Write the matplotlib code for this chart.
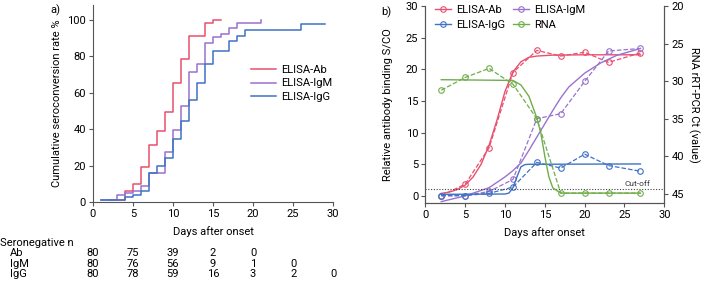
import matplotlib.pyplot as plt

plt.rcParams['font.family'] = ['Roboto', 'DejaVu Sans']
plt.rcParams['font.size'] = 7

RED = "#e8506e"
PURPLE = "#9a72cf"
BLUE = "#3f73c6"
GREEN = "#6fae4a"

# ---- panel a: cumulative seroconversion (step curves) ----
ab_days = [2, 4, 5, 6, 7, 8, 9, 10, 11, 12, 14, 15, 16]
ab_rate = [1.25, 6.25, 10, 19, 31, 39, 49.5, 65, 78.5, 91, 98, 99.5, 99.5]
igm_days = [1, 3, 4, 5, 6, 7, 9, 10, 11, 12, 13, 14, 15, 16, 17, 18, 21]
igm_rate = [1.25, 3.75, 5, 6.25, 8.75, 16, 27.5, 39.5, 52.5, 71, 75.5, 87, 90.5, 92.3, 95.5, 98, 100]
igg_days = [1, 4, 5, 6, 7, 8, 9, 10, 11, 12, 13, 14, 15, 17, 18, 19, 26, 29]
igg_rate = [1.25, 2.5, 3.75, 6.25, 16, 20, 24, 34.5, 44.5, 56, 65, 75.5, 83, 88.5, 91, 94.5, 97.5, 97.5]

table_days = [0, 5, 10, 15, 20, 25, 30]
seroneg_ab = [80, 75, 39, 2, 0]
seroneg_igm = [80, 76, 56, 9, 1, 0]
seroneg_igg = [80, 78, 59, 16, 3, 2, 0]

# ---- panel b: antibody kinetics ----
obs_days = [2, 5, 8, 11, 14, 17, 20, 23, 27]
ab_sco = [0.05, 1.85, 7.6, 19.5, 23.0, 22.1, 22.7, 21.1, 22.6]
igm_sco = [0.0, 0.05, 0.7, 2.6, 12.2, 13.0, 18.1, 22.9, 23.3]
igg_sco = [0.05, 0.05, 0.4, 1.4, 5.3, 4.4, 6.6, 4.8, 3.9]
rna_ct = [31.2, 29.5, 28.3, 30.4, 35.0, 44.9, 44.9, 44.9, 44.9]

# fitted curves
ab_fit_x = [2, 3, 4, 5, 6, 7, 8, 9, 10, 11, 12, 13, 14, 16, 20, 27]
ab_fit_y = [0.4, 0.6, 1.0, 1.7, 3.0, 5.0, 8.0, 12.0, 16.5, 19.6, 21.2, 21.9, 22.1, 22.25, 22.3, 22.3]
igm_fit_x = [2, 5, 8, 10, 11, 12, 13, 14, 15, 16, 17, 18, 20, 22, 24, 27]
igm_fit_y = [-0.9, 0.0, 1.3, 3.0, 4.0, 5.2, 7.2, 9.3, 11.4, 13.5, 15.5, 17.2, 19.4, 21.0, 22.2, 23.3]
igg_fit_x = [2, 10, 10.5, 11, 11.5, 12, 12.5, 13, 27]
igg_fit_y = [0.25, 0.3, 0.45, 1.3, 3.0, 4.6, 4.95, 5.0, 5.05]
rna_fit_x = [2, 11, 12, 13, 14, 14.5, 15, 15.5, 16, 17, 27]
rna_fit_y = [29.8, 29.9, 30.5, 32.0, 34.9, 36.9, 40.0, 42.7, 44.2, 44.9, 44.9]
cutoff = 1.1

fig = plt.figure(figsize=(7.03, 2.89), dpi=100)
ax1 = fig.add_axes([0.132, 0.301, 0.342, 0.682])
ax2 = fig.add_axes([0.605, 0.298, 0.340, 0.681])
ax3 = ax2.twinx()

# === panel a ===
for d, r, c, lab in [(ab_days, ab_rate, RED, "ELISA-Ab"),
                     (igm_days, igm_rate, PURPLE, "ELISA-IgM"),
                     (igg_days, igg_rate, BLUE, "ELISA-IgG")]:
    ax1.step(d, r, where="post", color=c, lw=1.1, label=lab)
ax1.set_xlim(0, 30)
ax1.set_ylim(0, 108)
ax1.set_xticks(range(0, 31, 5))
ax1.set_yticks(range(0, 101, 20))
ax1.set_xlabel("Days after onset", fontsize=8, labelpad=5)
ax1.set_ylabel("Cumulative seroconversion rate %", fontsize=8, labelpad=4)
for s in ["top", "right"]:
    ax1.spines[s].set_visible(False)
ax1.legend(loc="upper left", bbox_to_anchor=(0.64, 0.72), frameon=False, fontsize=8,
           handlelength=2.2, handletextpad=0.5, labelspacing=0.35, borderaxespad=0)
fig.text(0.072, 0.955, "a)", fontsize=8)

# seronegative table under panel a
ax1.text(-0.385, -0.208, "Seronegative n", transform=ax1.transAxes, fontsize=8, va="center")
tbl_y = [-0.259, -0.312, -0.365]
for y, (lab, vals) in zip(tbl_y, [("Ab", seroneg_ab), ("IgM", seroneg_igm), ("IgG", seroneg_igg)]):
    ax1.text(-0.345, y, lab, transform=ax1.transAxes, fontsize=8, va="center")
    for d, v in zip(table_days, vals):
        ax1.text(d, y, str(v), transform=ax1.get_xaxis_transform(), fontsize=8,
                 ha="center", va="center")

# === panel b ===
ax2.plot(ab_fit_x, ab_fit_y, color=RED, lw=1.0)
ax2.plot(obs_days, ab_sco, color=RED, lw=0.9, ls="--", marker="o", mfc="none", ms=4, mew=0.8)
ax2.plot(igm_fit_x, igm_fit_y, color=PURPLE, lw=1.0)
ax2.plot(obs_days, igm_sco, color=PURPLE, lw=0.9, ls="--", marker="o", mfc="none", ms=4, mew=0.8)
ax2.plot(igg_fit_x, igg_fit_y, color=BLUE, lw=1.0)
ax2.plot(obs_days, igg_sco, color=BLUE, lw=0.9, ls="--", marker="o", mfc="none", ms=4, mew=0.8)
ax2.axhline(cutoff, color="#444444", lw=0.8, ls=(0, (1, 1.5)))
ax2.text(28.3, cutoff + 0.3, "Cut-off", fontsize=6, ha="right", va="bottom", color="#333333")

ax3.plot(rna_fit_x, rna_fit_y, color=GREEN, lw=1.0)
ax3.plot(obs_days, rna_ct, color=GREEN, lw=0.9, ls="--", marker="o", mfc="none", ms=4, mew=0.8)

ax2.set_xlim(0, 30)
ax2.set_ylim(-1.1, 30)
ax3.set_ylim(46.2, 20)
ax2.set_xticks(range(0, 31, 5))
ax2.set_yticks(range(0, 31, 5))
ax3.set_yticks(range(20, 46, 5))
ax2.set_xlabel("Days after onset", fontsize=8, labelpad=5)
ax2.set_ylabel("Relative antibody binding S/CO", fontsize=8, labelpad=9)
ax3.set_ylabel("RNA rRT-PCR Ct (value)", fontsize=8, rotation=270, labelpad=11)
for a in (ax2, ax3):
    a.spines["top"].set_visible(False)
fig.text(0.543, 0.945, "b)", fontsize=8)

# legend for panel b (line + open circle)
handles = []
for c, lab in [(RED, "ELISA-Ab"), (PURPLE, "ELISA-IgM"), (BLUE, "ELISA-IgG"), (GREEN, "RNA")]:
    h, = ax2.plot([], [], color=c, lw=1.0, marker="o", mfc="none", ms=4, mew=0.8, label=lab)
    handles.append(h)
ax2.legend(handles=[handles[0], handles[2], handles[1], handles[3]], ncol=2, loc="upper left",
           bbox_to_anchor=(0.02, 1.03), frameon=False, fontsize=8, handlelength=1.5,
           handletextpad=0.4, columnspacing=0.7, labelspacing=0.5, borderaxespad=0)

for a in (ax1, ax2, ax3):
    a.tick_params(length=3, width=0.8, labelsize=8, pad=2, color="#555555")
    for s in a.spines.values():
        s.set_linewidth(0.8)
        s.set_color("#555555")

fig.savefig("out.png", dpi=100)
